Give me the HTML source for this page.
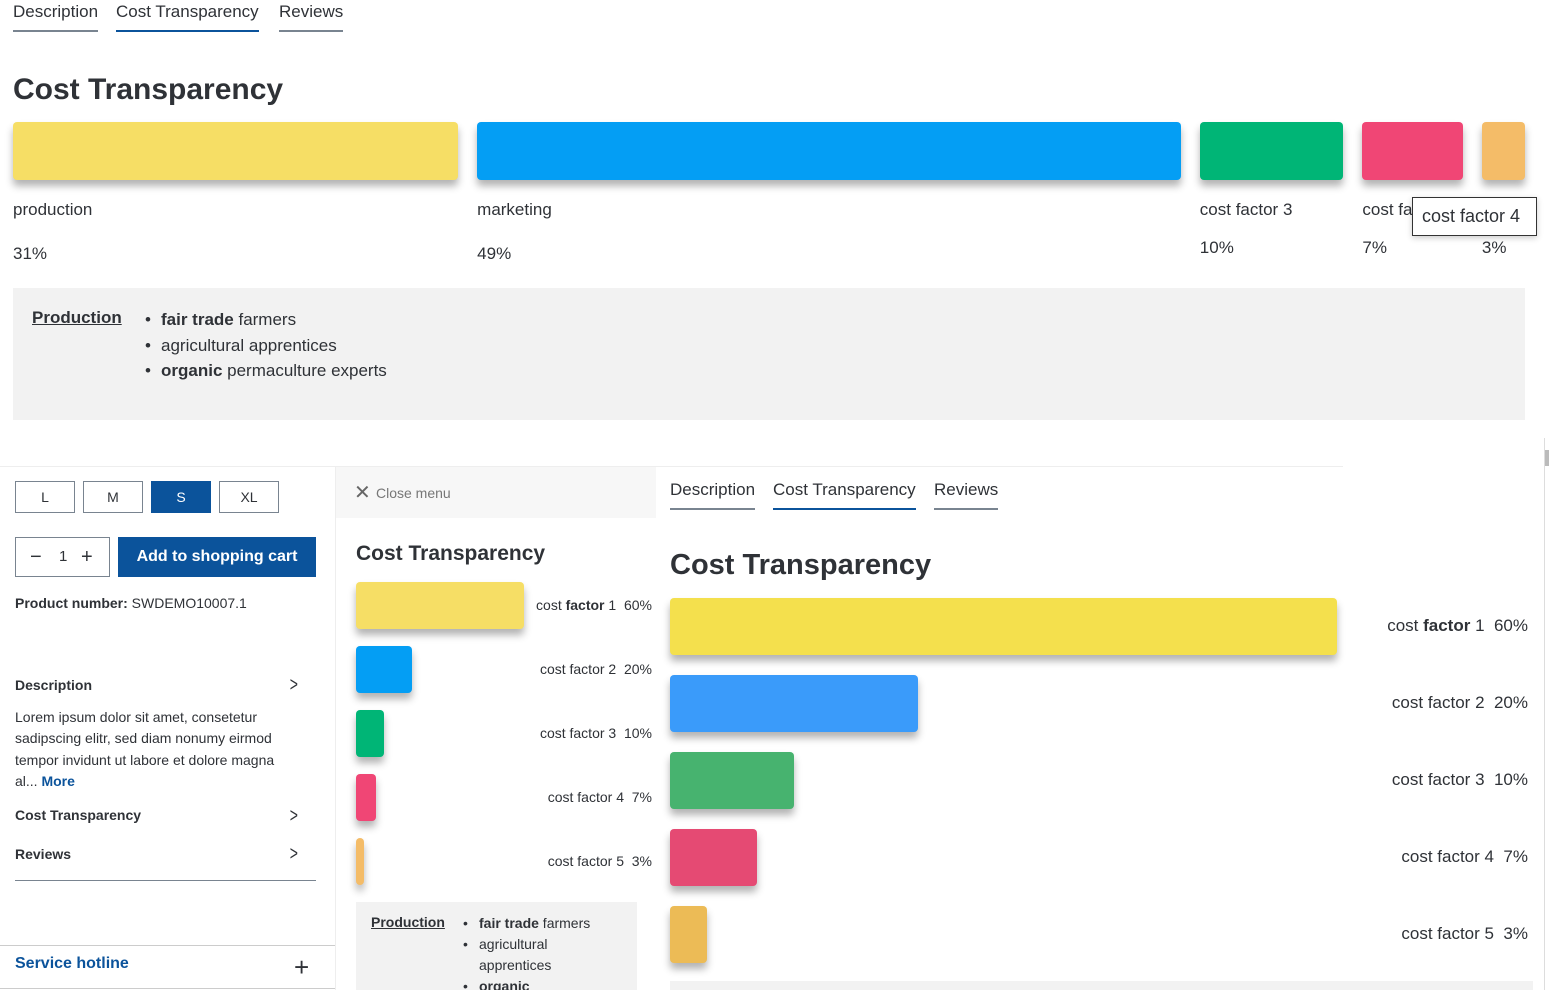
<!DOCTYPE html>
<html><head><meta charset="utf-8"><style>
*{box-sizing:border-box;margin:0;padding:0}
body{width:1550px;height:990px;overflow:hidden;background:#fff;font-family:"Liberation Sans",sans-serif;color:#2f3237;position:relative}
.a{position:absolute;white-space:nowrap}
.tab{position:absolute;font-size:17px;border-bottom:2px solid #798490;padding-bottom:8px}
.tab.on{border-bottom-color:#0b539b}
.bar{position:absolute;border-radius:4px;box-shadow:0 6px 8px rgba(0,0,0,.3)}
.btn{position:absolute;border:1px solid #798490;font-size:14px;text-align:center;line-height:30px;height:32px;width:60px}
.nav{position:absolute;left:15px;font-size:14px;font-weight:bold}
.chev{position:absolute;left:288px;font-size:20px;transform:scaleX(.7)}
ul.l{list-style:none}
ul.l li{position:relative;padding-left:16px}
ul.l li:before{content:"•";position:absolute;left:0}
</style></head><body>
<div class="tab" style="left:13px;top:2px">Description</div>
<div class="tab on" style="left:116px;top:2px">Cost Transparency</div>
<div class="tab" style="left:279px;top:2px">Reviews</div>
<div class="a" style="left:13px;top:73px;font-size:30px;font-weight:bold">Cost Transparency</div>
<div id="top"></div>
<div class="a" style="left:1412px;top:197px;width:125px;height:39px;border:1px solid #333;background:#fff;font-size:18px;line-height:37px;padding-left:9px;box-shadow:0 2px 6px rgba(0,0,0,.2)">cost factor 4</div>
<div class="a" style="left:13px;top:288px;width:1512px;height:132px;background:#f2f2f2">
 <div class="a" style="left:19px;top:20px;font-size:17px;font-weight:bold;text-decoration:underline">Production</div>
 <ul class="l a" style="left:132px;top:19px;font-size:17px;line-height:25.5px"><li><b>fair trade</b> farmers</li><li>agricultural apprentices</li><li><b>organic</b> permaculture experts</li></ul>
</div>
<div class="a" style="left:1544px;top:438px;width:1px;height:552px;background:#ddd"></div>
<div class="a" style="left:1545px;top:450px;width:4px;height:16px;background:#bbb"></div>
<div class="a" style="left:0;top:466px;width:1343px;height:1px;background:#eee"></div>
<!-- left panel -->
<div class="btn" style="left:15px;top:481px">L</div>
<div class="btn" style="left:83px;top:481px">M</div>
<div class="btn" style="left:151px;top:481px;background:#0b539b;color:#fff;border-color:#0b539b">S</div>
<div class="btn" style="left:219px;top:481px">XL</div>
<div class="a" style="left:15px;top:537px;width:95px;height:40px;border:1px solid #798490;font-size:15px;line-height:38px"><span style="position:absolute;left:14px;font-size:20px">−</span><span style="position:absolute;left:43px">1</span><span style="position:absolute;left:65px;font-size:20px">+</span></div>
<div class="a" style="left:118px;top:537px;width:198px;height:40px;background:#0b539b;color:#fff;font-size:16px;font-weight:bold;text-align:center;line-height:40px">Add to shopping cart</div>
<div class="a" style="left:15px;top:595px;font-size:14px"><b>Product number:</b> SWDEMO10007.1</div>
<div class="nav" style="top:677px">Description</div><div class="chev" style="top:674px">&gt;</div>
<div class="a" style="left:15px;top:707px;font-size:14px;line-height:21.3px">Lorem ipsum dolor sit amet, consetetur<br>sadipscing elitr, sed diam nonumy eirmod<br>tempor invidunt ut labore et dolore magna<br>al... <b style="color:#0b539b">More</b></div>
<div class="nav" style="top:807px">Cost Transparency</div><div class="chev" style="top:805px">&gt;</div>
<div class="nav" style="top:846px">Reviews</div><div class="chev" style="top:843px">&gt;</div>
<div class="a" style="left:15px;top:880px;width:301px;height:1px;background:#798490"></div>
<div class="a" style="left:0;top:945px;width:335px;height:1px;background:#ccc"></div>
<div class="a" style="left:15px;top:955px;font-size:16px;font-weight:bold;color:#0b539b">Service hotline</div>
<div class="a" style="left:294px;top:952px;font-size:26px;font-weight:300">+</div>
<div class="a" style="left:0;top:988px;width:335px;height:1px;background:#ccc"></div>
<!-- middle panel -->
<div class="a" style="left:335px;top:466px;width:1px;height:524px;background:#eee"></div>
<div class="a" style="left:336px;top:467px;width:320px;height:51px;background:#f7f7f7"><span class="a" style="left:18px;top:13px;font-size:20px;color:#666">✕</span><span class="a" style="left:40px;top:18px;font-size:14px;color:#777">Close menu</span></div>
<div class="a" style="left:356px;top:542px;font-size:21px;font-weight:bold">Cost Transparency</div>
<div id="mid"></div>
<div class="a" style="left:356px;top:902px;width:281px;height:88px;background:#f2f2f2;overflow:hidden">
 <div class="a" style="left:15px;top:12px;font-size:14px;font-weight:bold;text-decoration:underline">Production</div>
 <ul class="l a" style="left:107px;top:11px;font-size:14px;line-height:21px"><li><b>fair trade</b> farmers</li><li>agricultural<br>apprentices</li><li><b>organic</b></li></ul>
</div>
<!-- right panel -->
<div class="tab" style="left:670px;top:480px">Description</div>
<div class="tab on" style="left:773px;top:480px">Cost Transparency</div>
<div class="tab" style="left:934px;top:480px">Reviews</div>
<div class="a" style="left:670px;top:549px;font-size:29px;font-weight:bold">Cost Transparency</div>
<div id="right"></div>
<div class="a" style="left:670px;top:981px;width:863px;height:9px;background:#f2f2f2"></div>
<script>
const topCategories=["production","marketing","cost factor 3","cost factor 4","cost factor 5"];
const topValues=[31,49,10,7,3];
const topColors=["#f6de65","#049ef4","#00b576","#f04675","#f4bc68"];
const listCategories=["cost factor 1","cost factor 2","cost factor 3","cost factor 4","cost factor 5"];
const listValues=[60,20,10,7,3];
const midColors=["#f6de65","#049ef4","#00b576","#f04675","#f4bc68"];
const rightColors=["#f4e04d","#3a9bfa","#47b36f","#e54a73","#ecbb56"];
function mk(parent,cls,style,txt){const d=document.createElement('div');d.className=cls;d.style.cssText=style;if(txt!==undefined)d.innerHTML=txt;parent.appendChild(d);return d;}
function lab(c){return c==="cost factor 1"?'cost <b>factor</b> 1':c;}
(function(){const host=document.getElementById('top');const total=topValues.reduce((a,b)=>a+b,0);
const x0=13,W=1512,gap=19;const avail=W-gap*(topValues.length-1);let x=x0;
topValues.forEach((v,i)=>{const w=v/total*avail;
const b=mk(host,'bar','left:'+x+'px;top:122px;width:'+w+'px;height:58px;background:'+topColors[i]);


const l=mk(host,'a','left:'+x+'px;top:200px;font-size:17px;width:'+w+'px;overflow:hidden',topCategories[i]);


const p=mk(host,'a','left:'+x+'px;top:'+(i<2?244:238)+'px;font-size:17px',v+'%');


x+=w+gap;});})();
function list(id,x0,y0,step,h,scale,maxW,colors,labelRight,fs,prefix){const host=document.getElementById(id);
listValues.forEach((v,i)=>{const y=y0+i*step;
const w=Math.min(v*scale,maxW);
const b=mk(host,'bar','left:'+x0+'px;top:'+y+'px;width:'+w+'px;height:'+h+'px;background:'+colors[i]);


const l=mk(host,'a','right:'+(1550-labelRight)+'px;top:'+(y+h/2-fs*0.6)+'px;font-size:'+fs+'px',lab(listCategories[i])+'&nbsp; '+v+'%');

});}
list('mid',356,582,64,47,2.8,168,midColors,652,14,'mid');
list('right',670,598,77,57,12.42,667,rightColors,1528,17,'right');
</script>
</body></html>
